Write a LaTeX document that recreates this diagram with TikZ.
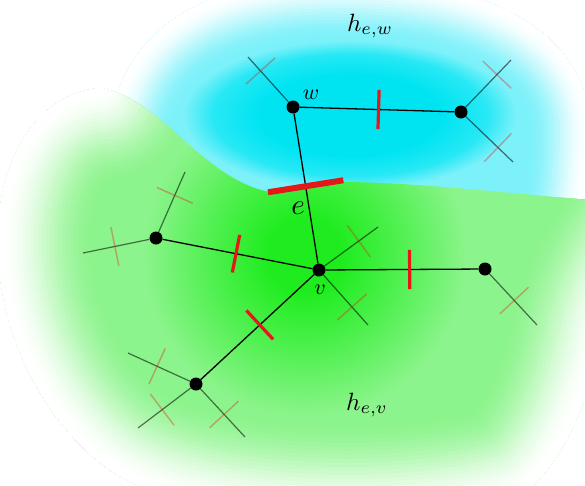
\documentclass[tikz,border=0pt]{standalone}
\definecolor{cA}{RGB}{0,228,242}
\definecolor{cB}{RGB}{40,232,245}
\definecolor{cC}{RGB}{125,241,250}
\definecolor{gA}{RGB}{30,236,30}
\definecolor{gB}{RGB}{80,240,80}
\definecolor{gC}{RGB}{140,244,140}
\definecolor{tickred}{RGB}{228,24,24}
\pgfdeclareradialshading{gshade}{\pgfpoint{0bp}{0bp}}{color(0bp)=(gA); color(3bp)=(gA); color(8bp)=(gB); color(13.5bp)=(gC); color(100bp)=(gC)}
\pgfdeclareradialshading{cshade}{\pgfpoint{0bp}{0bp}}{color(0bp)=(cA); color(6bp)=(cA); color(9bp)=(cB); color(11bp)=(cC); color(100bp)=(cC)}
\tikzset{
  dot/.style={circle,fill=black,inner sep=0pt,minimum size=13pt},
  edge/.style={black,line width=1.3pt},
  halfedge/.style={black,opacity=0.55,line width=1.2pt},
  crossline/.style={tickred,opacity=0.35,line width=1.5pt},
  tickline/.style={tickred,line width=3.2pt},
  bigtick/.style={tickred,line width=6pt},
  marknode/.style={sloped,inner sep=0pt,minimum width=0pt,minimum height=#1},
  lbl/.style={inner sep=0pt,transform shape,scale=#1},
  band/.style={line join=round,line cap=round},
}
\def\cyanpath{(108,185) .. controls (98,55) and (170,-18) .. (330,-22) .. controls (480,-25) and (590,30) .. (590,130) .. controls (590,185) and (582,230) .. (565,280) -- (108,280) -- cycle}
\def\greenouter{(100,88) .. controls (30,95) and (-5,170) .. (-2,250) .. controls (0,330) and (40,420) .. (110,470) .. controls (200,530) and (430,530) .. (520,495) .. controls (560,470) and (590,400) .. (605,330) .. controls (615,290) and (640,250) .. (660,230)}
\def\greenclosed{(100,88) .. controls (30,95) and (-5,170) .. (-2,250) .. controls (0,330) and (40,420) .. (110,470) .. controls (200,530) and (430,530) .. (520,495) .. controls (560,470) and (590,400) .. (605,330) .. controls (615,290) and (640,250) .. (660,230) -- (660,206) .. controls (520,195) and (420,182) .. (340,182) .. controls (310,183) and (290,196) .. (265,191) .. controls (200,175) and (160,98) .. (100,88) -- cycle}
\begin{document}
\begin{tikzpicture}[x=1pt,y=-1pt]
\useasboundingbox (0,0) rectangle (585,485);
\fill[white] (0,0) rectangle (585,485);
% cyan region
\begin{scope}
  \clip \cyanpath;
  \shade[shading=cshade] (350,115) ellipse [x radius=380pt, y radius=170pt];
  \foreach \h in {63,60,...,3} {
    \pgfmathsetmacro\tt{(\h-3)/60}
    \pgfmathsetmacro\pp{100*\tt*\tt*(3-2*\tt)}
    \pgfmathsetmacro\ww{2*\h}
    \draw[band,line width=\ww pt,color=cC!\pp!white] \cyanpath;
  }
\end{scope}
% green region
\begin{scope}
  \clip \greenclosed;
  \shade[shading=gshade] (305,255) circle[radius=300pt];
  \foreach \h in {100,96,...,4} {
    \pgfmathsetmacro\tt{(\h-4)/96}
    \pgfmathsetmacro\pp{100*\tt*\tt*(3-2*\tt)}
    \pgfmathsetmacro\ww{2*\h}
    \draw[band,line width=\ww pt,color=gC!\pp!white] \greenouter;
  }
\end{scope}
% vertices
\node[dot] (w) at (293,107) {};
\node[dot] (x) at (461,112) {};
\node[dot] (v) at (319,270) {};
\node[dot] (l) at (156,238) {};
\node[dot] (r) at (485,269) {};
\node[dot] (b) at (196,384) {};
% half-edge ends
\coordinate (w1) at (248,57);
\coordinate (x1) at (511,60);
\coordinate (x2) at (513,162);
\coordinate (l1) at (185,172);
\coordinate (l2) at (83,253);
\coordinate (v1) at (378,227);
\coordinate (v2) at (368,325);
\coordinate (r1) at (537,325);
\coordinate (b1) at (128,353);
\coordinate (b2) at (138,428);
\coordinate (b3) at (245,437);
% half-edges with crosses
\foreach \s/\t/\p/\n in {w/w1/0.69/cw1, x/x1/0.69/cx1, x/x2/0.68/cx2, l/l1/0.61/cl1, l/l2/0.52/cl2, v/v1/0.64/cv1, v/v2/0.64/cv2, r/r1/0.52/cr1, b/b1/0.53/cb1, b/b2/0.54/cb2, b/b3/0.53/cb3} {
  \draw[halfedge] (\s) -- (\t) node[marknode=38pt,pos=\p] (\n) {};
  \draw[crossline] (\n.north) -- (\n.south);
}
% edges
\draw[edge] (w) -- (x) node[marknode=38pt,pos=0.51] (k1) {};
\draw[edge] (w) -- (v) node[marknode=75pt,pos=0.485] (ke) {};
\draw[edge] (l) -- (v) node[marknode=37pt,pos=0.49] (k2) {};
\draw[edge] (v) -- (r) node[marknode=38pt,pos=0.55] (k3) {};
\draw[edge] (v) -- (b) node[marknode=38pt,pos=0.48] (k4) {};
\draw[tickline] (k1.north) -- (k1.south);
\draw[tickline] (k2.north) -- (k2.south);
\draw[tickline] (k3.north) -- (k3.south);
\draw[tickline] (k4.north) -- (k4.south);
\draw[bigtick] (ke.north) -- (ke.south);
% labels
\node[lbl=2.2] (lw) at (311,95) {$w$};
\node[lbl=2.2] (lv) at (320,290) {$v$};
\node[lbl=2.9] (le) at (298,208) {$e$};
\node[lbl=2.5] (hw) at (370,26) {$h_{e,w}$};
\node[lbl=2.5] (hv) at (367,405) {$h_{e,v}$};
\end{tikzpicture}
\end{document}
